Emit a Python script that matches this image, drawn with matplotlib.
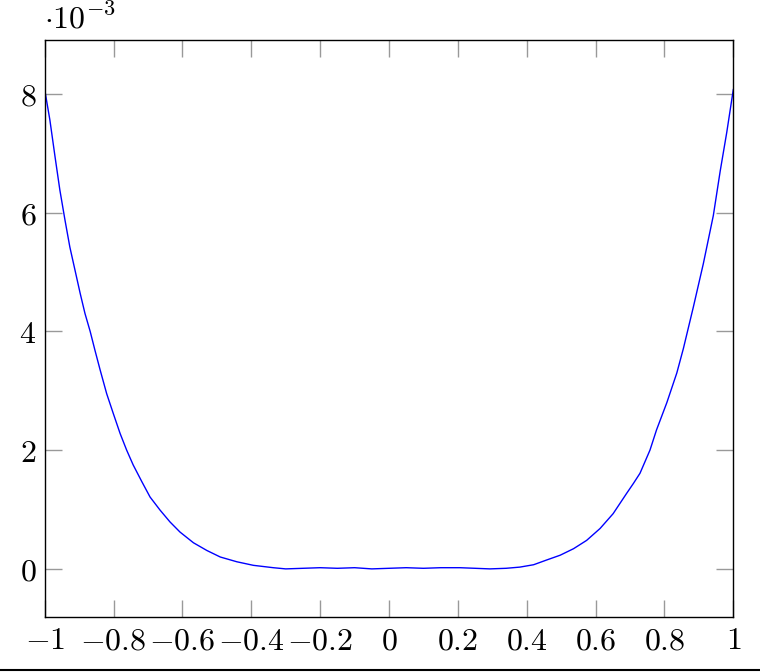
import matplotlib.pyplot as plt
from matplotlib.lines import Line2D

plt.rcParams['mathtext.fontset'] = 'cm'
plt.rcParams['axes.formatter.use_mathtext'] = True

# values (y in units of 1e-3)
x = [-1.0, -0.985, -0.970, -0.956, -0.941, -0.927, -0.912, -0.897, -0.883,
     -0.868, -0.854, -0.839, -0.820, -0.801, -0.781, -0.762, -0.743, -0.718,
     -0.694, -0.665, -0.636, -0.607, -0.568, -0.529, -0.490, -0.442, -0.394,
     -0.336, -0.3, -0.25, -0.2, -0.15, -0.1, -0.05, 0.0, 0.05, 0.1, 0.15,
     0.206, 0.25, 0.293, 0.340, 0.380, 0.420, 0.458, 0.497, 0.536, 0.574,
     0.613, 0.651, 0.690, 0.710, 0.729, 0.758, 0.777, 0.807, 0.836, 0.855,
     0.884, 0.913, 0.942, 0.962, 0.981, 1.0]
y = [8.07, 7.56, 6.94, 6.38, 5.87, 5.42, 5.03, 4.64, 4.30,
     4.00, 3.68, 3.35, 2.95, 2.62, 2.28, 2.00, 1.75, 1.47,
     1.21, 0.99, 0.79, 0.62, 0.44, 0.31, 0.20, 0.12, 0.06,
     0.02, 0.0, 0.01, 0.02, 0.01, 0.02, 0.0, 0.01, 0.02, 0.01, 0.02,
     0.02, 0.01, 0.0, 0.01, 0.03, 0.07, 0.15, 0.23, 0.34, 0.48,
     0.68, 0.93, 1.27, 1.44, 1.61, 2.00, 2.34, 2.80, 3.30, 3.71,
     4.41, 5.14, 5.95, 6.70, 7.35, 8.07]

xticks = [-1, -0.8, -0.6, -0.4, -0.2, 0, 0.2, 0.4, 0.6, 0.8, 1]
yticks = [0, 2, 4, 6, 8]

fig = plt.figure(figsize=(7.6, 6.72), dpi=100)
ax = fig.add_axes([44.7 / 760, 1 - 617 / 672, 688.6 / 760, 576.7 / 672])

ax.plot(x, y, color='blue', lw=1.0)

ax.set_xlim(-1, 1)
ax.set_ylim(-0.81, 8.9)
ax.set_xticks(xticks)
ax.set_xticklabels(['$%g$' % t for t in xticks])
ax.set_yticks(yticks)
ax.set_yticklabels(['$%d$' % t for t in yticks])
ax.tick_params(direction='in', length=12, width=1, color='#999999',
               top=True, right=True, labelsize=23, pad=6)
for s in ax.spines.values():
    s.set_linewidth(1.0)

fig.text(44 / 760, 1 - 19 / 672, r'$\cdot 10^{-3}$', fontsize=23,
         ha='left', va='center')

fig.add_artist(Line2D([0, 1], [1 - 670 / 672, 1 - 670 / 672], color='black',
                      lw=1.5, transform=fig.transFigure))

fig.savefig('out.png', dpi=100)
